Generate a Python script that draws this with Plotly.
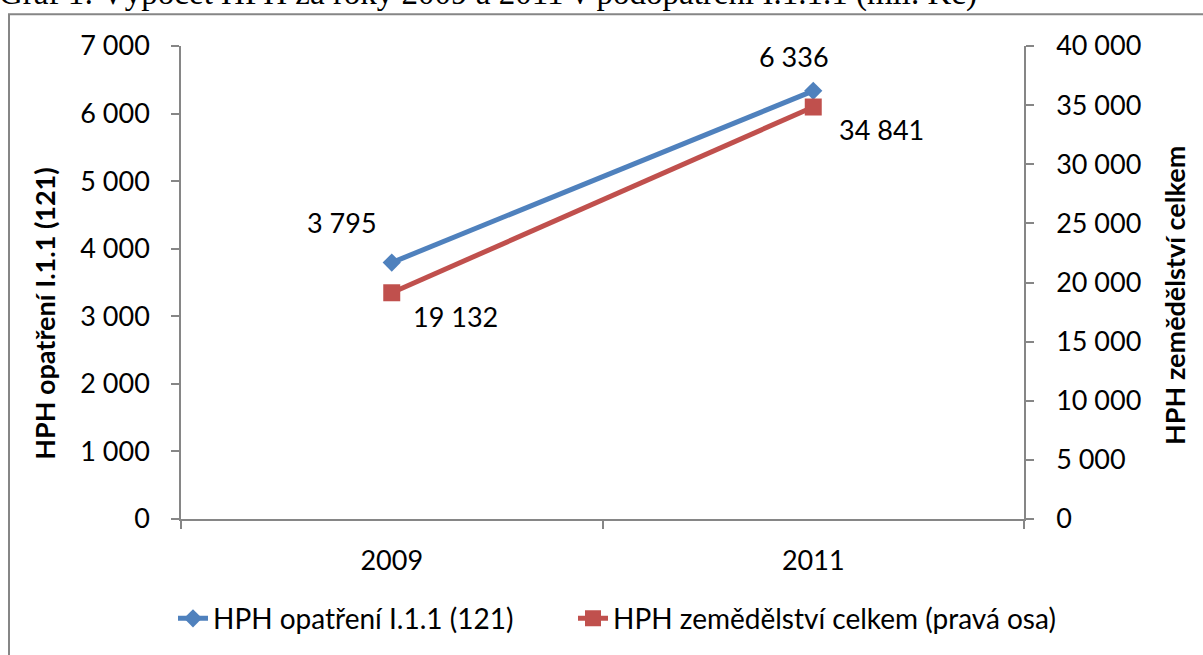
import plotly.graph_objects as go

# data
years = ["2009", "2011"]
hph_opatreni = [3795, 6336]          # left axis
hph_zemedelstvi = [19132, 34841]     # right axis

name_opatreni = "HPH opatření I.1.1 (121)"
name_zemedelstvi = "HPH zemědělství celkem (pravá osa)"
title_left = "HPH opatření I.1.1 (121)"
title_right = "HPH zemědělství celkem"
chart_title = "Graf 1: Výpočet HPH za roky 2009 a 2011 v podopatření I.1.1.1 (mil. Kč)"

BLUE = "#4F81BD"
RED = "#C0504D"
AXIS = "#868686"
FONT = "Lato"

W, H = 1203, 655
L, R, T, B = 181, 179, 46, 134
PW, PH = W - L - R, H - T - B


def px_x(p):
    return (p - L) / PW


def px_y(p):
    return 1 - (p - T) / PH


def fmt(v):
    return f"{v:,}".replace(",", " ")


fig = go.Figure()
fig.add_trace(go.Scatter(
    x=years, y=hph_opatreni, name=name_opatreni, mode="lines+markers",
    line=dict(color=BLUE, width=5),
    marker=dict(symbol="diamond", size=14, color=BLUE),
    legend="legend",
))
fig.add_trace(go.Scatter(
    x=years, y=hph_zemedelstvi, name=name_zemedelstvi, mode="lines+markers",
    yaxis="y2",
    line=dict(color=RED, width=5),
    marker=dict(symbol="square", size=17, color=RED),
    legend="legend2",
))

# data labels (category axis -> index positions)
ann = []
shifts_blue = [(-50, 40), (-19, 34)]
shifts_red = [(64, -24), (68, -22)]
for i, (v, (dx, dy)) in enumerate(zip(hph_opatreni, shifts_blue)):
    ann.append(dict(x=i, y=v, xref="x", yref="y", text=fmt(v), showarrow=False,
                    xshift=dx, yshift=dy, font=dict(size=27, color="black")))
for i, (v, (dx, dy)) in enumerate(zip(hph_zemedelstvi, shifts_red)):
    ann.append(dict(x=i, y=v, xref="x", yref="y2", text=fmt(v), showarrow=False,
                    xshift=dx, yshift=dy, font=dict(size=27, color="black")))

# axis titles
ann.append(dict(x=px_x(45), y=px_y(315), xref="paper", yref="paper", text=f"<b>{title_left}</b>",
                xanchor="center", yanchor="middle",
                textangle=-90, showarrow=False, font=dict(size=27, color="black")))
ann.append(dict(x=px_x(1175), y=px_y(297), xref="paper", yref="paper", text=f"<b>{title_right}</b>",
                xanchor="center", yanchor="middle",
                textangle=-90, showarrow=False, font=dict(size=27, color="black")))

# title (cut at top as in the source)
ann.append(dict(x=px_x(-3), y=px_y(-7), xref="paper", yref="paper", text=chart_title,
                xanchor="left", yanchor="middle", showarrow=False,
                font=dict(family="Liberation Serif", size=33, color="black")))

axis_common = dict(showline=True, linecolor=AXIS, linewidth=1.5, ticks="outside",
                   tickcolor=AXIS, tickwidth=1.5, ticklen=8, showgrid=False, zeroline=False,
                   tickfont=dict(size=27, color="black"))

legend_common = dict(orientation="h", xanchor="left", y=px_y(621), yanchor="middle",
                     font=dict(size=28, color="black"), bgcolor="rgba(0,0,0,0)")

fig.update_layout(
    width=W, height=H,
    margin=dict(l=L, r=R, t=T, b=B),
    paper_bgcolor="white", plot_bgcolor="white",
    font=dict(family=FONT, color="black"),
    separators=", ",
    xaxis=dict(type="category", range=[-0.5, 1.5], tickson="boundaries",
               ticklabelstandoff=17, **axis_common),
    yaxis=dict(range=[0, 7000], dtick=1000, tickformat=",d", ticklabelstandoff=16, **axis_common),
    yaxis2=dict(range=[0, 40000], dtick=5000, tickformat=",d", overlaying="y", side="right",
                ticklabelstandoff=17, **axis_common),
    showlegend=True,
    legend=dict(x=px_x(173), **legend_common),
    legend2=dict(x=px_x(573), **legend_common),
    annotations=ann,
    shapes=[dict(type="rect", xref="paper", yref="paper",
                 x0=px_x(9), x1=px_x(1215), y0=px_y(670), y1=px_y(14),
                 line=dict(color=AXIS, width=2), layer="below")],
)

fig.write_html("out.html", config={"displayModeBar": False},
               post_script="document.body.style.margin='0';")
